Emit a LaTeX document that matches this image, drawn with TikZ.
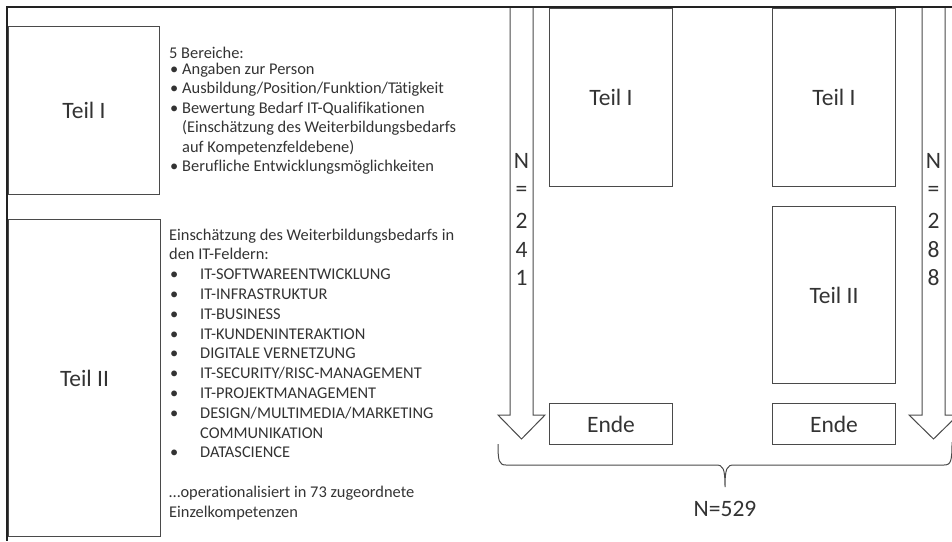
\documentclass[tikz,border=0pt]{standalone}
\usepackage{fontspec}
\setmainfont[Ligatures=CommonOff]{Carlito}
\definecolor{txt}{HTML}{333333}
\definecolor{ln}{HTML}{4A4A4A}
\definecolor{frm}{HTML}{222222}
\tikzset{
  box/.style={draw=ln, line width=1pt},
  big/.style={font=\fontsize{23.5}{28}\selectfont, text=txt, inner sep=0pt},
  smallA/.style={font=\fontsize{16.4}{19.4}\selectfont, text=txt, inner sep=0pt, align=left, anchor=north west},
  smallB/.style={font=\fontsize{16.4}{19.8}\selectfont, text=txt, inner sep=0pt, align=left, anchor=north west},
  vlet/.style={font=\fontsize{23.5}{28}\selectfont, text=txt, inner sep=0pt},
  arr/.style={draw=ln, line width=1pt, fill=white, line join=miter},
}
\newcommand{\bulA}{\makebox[13pt][l]{\hspace{1pt}•}}
\newcommand{\bulB}{\makebox[31pt][l]{\hspace{1pt}•}}
\begin{document}
\begin{tikzpicture}[x=1pt,y=-1pt]
\useasboundingbox (0,0) rectangle (952,541);
% frame
\draw[frm, line width=2pt] (952,7) -- (7,7) -- (7,541);
% left boxes
\node[box, minimum width=151pt, minimum height=168pt, anchor=north west] (lt1) at (8,26) {};
\node[big] (lt1l) at (lt1.center) {Teil I};
\node[box, minimum width=152pt, minimum height=317pt, anchor=north west] (lt2) at (8,219) {};
\node[big] (lt2l) at (lt2.center) {Teil II};
% texts
\node[smallA] (t1) at (169,47) {5 Bereiche:\\[-3.4pt]
\bulA Angaben zur Person\\
\bulA Ausbildung/Position/Funktion/Tätigkeit\\
\bulA Bewertung Bedarf IT-Qualifikationen\\
\hspace*{13pt}(Einschätzung des Weiterbildungsbedarfs\\
\hspace*{13pt}auf Kompetenzfeldebene)\\
\bulA Berufliche Entwicklungsmöglichkeiten};
\node[smallB] (t2) at (169,228.5) {Einschätzung des Weiterbildungsbedarfs in\\
den IT-Feldern:\\
\bulB IT-SOFTWAREENTWICKLUNG\\
\bulB IT-INFRASTRUKTUR\\
\bulB IT-BUSINESS\\
\bulB IT-KUNDENINTERAKTION\\
\bulB DIGITALE VERNETZUNG\\
\bulB IT-SECURITY/RISC-MANAGEMENT\\
\bulB IT-PROJEKTMANAGEMENT\\
\bulB DESIGN/MULTIMEDIA/MARKETING\\
\hspace*{31pt}COMMUNIKATION\\
\bulB DATASCIENCE\\[19.8pt]
…operationalisiert in 73 zugeordnete\\
Einzelkompetenzen};
% arrows
\draw[arr] (510,7) -- (510,415) -- (498,415) -- (521.5,439) -- (545,415) -- (533,415) -- (533,7);
\draw[arr] (922,7) -- (922,415) -- (909,415) -- (933.5,439) -- (958,415) -- (945,415) -- (945,7);
\draw[frm, line width=2pt] (480,7) -- (952,7);
\foreach \ch/\yy [count=\i] in {N/161,=/191,2/221,4/250,1/278}
  \node[vlet] (la\i) at (521.5,\yy) {\ch};
\foreach \ch/\yy [count=\i] in {N/161,=/191,2/221,8/250,8/278}
  \node[vlet] (ra\i) at (933.5,\yy) {\ch};
% right boxes
\node[box, minimum width=123pt, minimum height=178pt, anchor=north west] (a1) at (549,8) {};
\node[big] (a1l) at (a1.center) {Teil I};
\node[box, minimum width=123pt, minimum height=41pt, anchor=north west] (a2) at (549,403) {};
\node[big] (a2l) at (a2.center) {Ende};
\node[box, minimum width=123pt, minimum height=178pt, anchor=north west] (b1) at (772,8) {};
\node[big] (b1l) at (b1.center) {Teil I};
\node[box, minimum width=123pt, minimum height=177pt, anchor=north west] (b2) at (772,206) {};
\node[big] (b2l) at (b2.center) {Teil II};
\node[box, minimum width=123pt, minimum height=41pt, anchor=north west] (b3) at (772,403) {};
\node[big] (b3l) at (b3.center) {Ende};
% brace
\coordinate (bl) at (498,444);
\coordinate (bm) at (725,487);
\coordinate (br) at (952,442);
\draw[ln, line width=1pt] (bl) .. controls (498,461) and (499,465) .. (506,465) -- (716,465)
  .. controls (723,465) and (725,468) .. (bm)
  .. controls (725,468) and (727,465) .. (734,465) -- (944,465)
  .. controls (951,465) and (952,461) .. (br);
\node[big] (ntot) at (725,509) {N=529};
\end{tikzpicture}
\end{document}
